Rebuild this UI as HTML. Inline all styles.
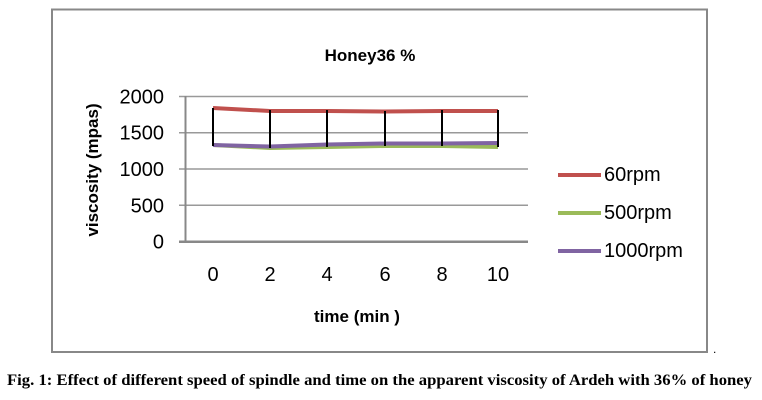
<!DOCTYPE html>
<html><head><style>body{margin:0;background:#fff}svg{display:block}</style></head><body>
<svg width="762" height="400" xmlns="http://www.w3.org/2000/svg" font-family="Liberation Sans, sans-serif">
<rect x="52" y="9.5" width="655" height="342.5" fill="#fff" stroke="#888" stroke-width="2"/>
<text x="370" y="61" font-size="17" font-weight="bold" text-anchor="middle">Honey36 %</text>
<g stroke="#999" stroke-width="1.5">
<line x1="179" y1="96.5" x2="528" y2="96.5"/>
<line x1="179" y1="132.7" x2="528" y2="132.7"/>
<line x1="179" y1="169" x2="528" y2="169"/>
<line x1="179" y1="205.3" x2="528" y2="205.3"/>
</g>
<line x1="179" y1="241.7" x2="528" y2="241.7" stroke="#888" stroke-width="2.5"/>
<line x1="185.5" y1="96" x2="185.5" y2="242" stroke="#888" stroke-width="2"/>
<g font-size="20" text-anchor="end">
<text x="164" y="103.5">2000</text><text x="164" y="139.7">1500</text><text x="164" y="176">1000</text><text x="164" y="212.3">500</text><text x="164" y="248.7">0</text>
</g>
<g font-size="20" text-anchor="middle">
<text x="213" y="281">0</text><text x="270" y="281">2</text><text x="327" y="281">4</text><text x="385" y="281">6</text><text x="442" y="281">8</text><text x="498" y="281">10</text>
</g>
<text x="357" y="322" font-size="17" font-weight="bold" text-anchor="middle">time (min )</text>
<text transform="translate(98,170) rotate(-90)" font-size="17" font-weight="bold" text-anchor="middle">viscosity (mpas)</text>
<polyline fill="none" stroke="#9bbb59" stroke-width="4" points="213,145 270,148 327,147 385,146 442,146 498,147"/>
<polyline fill="none" stroke="#8064a2" stroke-width="4" points="213,145 270,146.5 327,144.5 385,143.5 442,143.5 498,143"/>
<polyline fill="none" stroke="#c0504d" stroke-width="4" points="213,108 270,111 327,111 385,111.5 442,111 498,111"/>
<g stroke="#000" stroke-width="2">
<line x1="213" y1="108" x2="213" y2="146"/><line x1="270" y1="110" x2="270" y2="148"/><line x1="327" y1="110" x2="327" y2="147"/><line x1="385" y1="111" x2="385" y2="146"/><line x1="442" y1="110" x2="442" y2="146"/><line x1="498" y1="110" x2="498" y2="147"/>
</g>
<g stroke-width="4">
<line x1="558" y1="175" x2="601" y2="175" stroke="#c0504d"/>
<line x1="558" y1="213" x2="601" y2="213" stroke="#9bbb59"/>
<line x1="558" y1="251" x2="601" y2="251" stroke="#8064a2"/>
</g>
<g font-size="20">
<text x="604" y="181">60rpm</text><text x="604" y="219">500rpm</text><text x="604" y="257">1000rpm</text>
</g>
<text x="713" y="353" font-size="12">.</text>
<text x="7" y="385" font-family="Liberation Serif, serif" font-size="16" font-weight="bold" textLength="745" lengthAdjust="spacingAndGlyphs">Fig. 1: Effect of different speed of spindle and time on the apparent viscosity of Ardeh with 36% of honey</text>
</svg>
</body></html>
